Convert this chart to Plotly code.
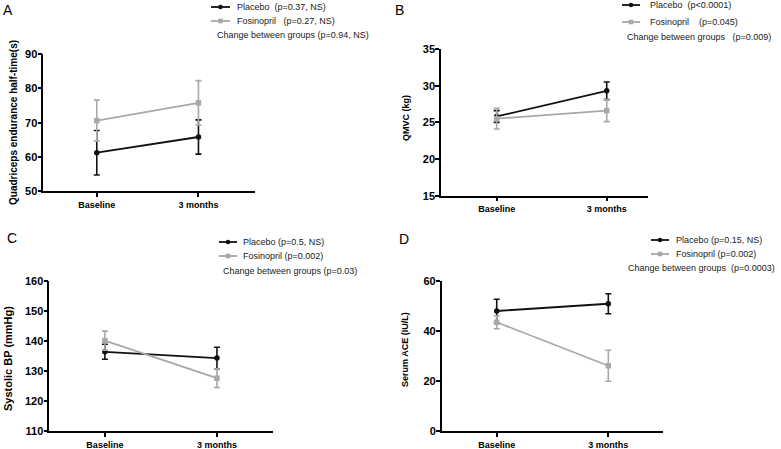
import plotly.graph_objects as go

W, H = 781, 449

categories = ["Baseline", "3 months"]

# Panel A - Quadriceps endurance half-time
a_placebo = [61.2, 65.8]
a_placebo_err = [6.5, 5.0]
a_fos = [70.6, 75.8]
a_fos_err = [6.0, 6.5]

# Panel B - QMVC
b_placebo = [25.8, 29.3]
b_placebo_err = [0.8, 1.2]
b_fos = [25.5, 26.6]
b_fos_err = [1.4, 1.5]

# Panel C - Systolic BP
c_placebo = [136.4, 134.3]
c_placebo_err = [2.5, 3.6]
c_fos = [140.1, 127.6]
c_fos_err = [3.2, 3.1]

# Panel D - Serum ACE
d_placebo = [48.0, 50.9]
d_placebo_err = [4.7, 4.0]
d_fos = [43.5, 26.1]
d_fos_err = [2.6, 6.2]

ytitles = ["Quadriceps endurance half-time(s)", "QMVC (kg)", "Systolic BP (mmHg)", "Serum ACE (IU/L)"]
letters = ["A", "B", "C", "D"]
legend_texts = [
    ["Placebo\u00a0\u00a0(p=0.37, NS)", "Fosinopril\u00a0\u00a0\u00a0(p=0.27, NS)", "Change between groups (p=0.94, NS)"],
    ["Placebo\u00a0\u00a0(p<0.0001)", "Fosinopril\u00a0\u00a0\u00a0\u00a0(p=0.045)", "Change between groups\u00a0\u00a0\u00a0(p=0.009)"],
    ["Placebo (p=0.5, NS)", "Fosinopril (p=0.002)", "Change between groups (p=0.03)"],
    ["Placebo (p=0.15, NS)", "Fosinopril (p=0.002)", "Change between groups\u00a0\u00a0(p=0.0003)"],
]
y_ranges = [[50, 90], [15, 35], [110, 160], [0, 60]]
y_dticks = [10, 5, 10, 20]

BLACK = "#111111"
GRAY = "#a8a8a8"
FONT = "Arial, Liberation Sans, sans-serif"

def px(x):
    return x / W

def py(y):
    return 1 - y / H

# layout geometry in pixels: (left, right, top, bottom), x-range
geom = [
    (43.3, 255, 54.3, 191, [-0.526, 1.556]),
    (441, 648, 49, 195.7, [-0.506, 1.375]),
    (49.3, 273, 281, 431, [-0.496, 1.50]),
    (441.7, 663, 281, 431, [-0.493, 1.49]),
]
ytitle_pos = [(13, 123, 10), (406, 118, 9), (8, 359, 11), (405, 350, 9)]
letter_pos = [(8, 10), (399, 10), (12, 238), (404, 239)]
# legend: symbol x0, x1, text x, row1 y, row2 y, change x, change y
leg_pos = [
    (211, 230, 235, 7, 21, 215, 35),
    (622, 640, 648, 5, 22, 625, 37),
    (219, 237, 241, 242, 256, 221, 271),
    (651, 669, 674, 240, 254, 626, 268),
]

data = [
    (a_placebo, a_placebo_err, a_fos, a_fos_err),
    (b_placebo, b_placebo_err, b_fos, b_fos_err),
    (c_placebo, c_placebo_err, c_fos, c_fos_err),
    (d_placebo, d_placebo_err, d_fos, d_fos_err),
]

fig = go.Figure()
layout = dict(
    width=W, height=H, margin=dict(l=0, r=0, t=0, b=0, autoexpand=False),
    paper_bgcolor="white", plot_bgcolor="white", showlegend=False,
    font=dict(family=FONT, color="black"),
)
annotations = []
shapes = []
xs = [0, 1]
for i in range(4):
    pl, ple, fo, foe = data[i]
    xa = "x" if i == 0 else f"x{i+1}"
    ya = "y" if i == 0 else f"y{i+1}"
    fig.add_trace(go.Scatter(
        x=xs, y=pl, xaxis=xa, yaxis=ya, mode="lines+markers",
        line=dict(color=BLACK, width=1.8),
        marker=dict(symbol="circle", size=5.5, color=BLACK),
        error_y=dict(type="data", array=ple, color=BLACK, thickness=1.6, width=3),
        cliponaxis=False,
    ))
    fig.add_trace(go.Scatter(
        x=xs, y=fo, xaxis=xa, yaxis=ya, mode="lines+markers",
        line=dict(color=GRAY, width=1.8),
        marker=dict(symbol="square", size=5.5, color=GRAY),
        error_y=dict(type="data", array=foe, color=GRAY, thickness=1.6, width=3),
        cliponaxis=False,
    ))
    l, r, t, b, xr = geom[i]
    xk = "xaxis" if i == 0 else f"xaxis{i+1}"
    yk = "yaxis" if i == 0 else f"yaxis{i+1}"
    layout[xk] = dict(
        domain=[px(l), px(r)], range=xr, anchor=ya, automargin=False,
        tickmode="array", tickvals=xs, ticktext=categories,
        showline=True, linecolor="black", linewidth=1.5,
        ticks="outside", ticklen=4, tickwidth=1.5, tickcolor="black",
        showgrid=False, zeroline=False,
        tickfont=dict(family=FONT, size=9, color="black", weight="bold"),
    )
    layout[yk] = dict(
        domain=[py(b), py(t)], range=y_ranges[i], anchor=xa, automargin=False,
        dtick=y_dticks[i], tick0=y_ranges[i][0],
        showline=True, linecolor="black", linewidth=1.5,
        ticks="outside", ticklen=4, tickwidth=1.5, tickcolor="black",
        ticklabelstandoff=-2,
        showgrid=False, zeroline=False,
        tickfont=dict(family=FONT, size=11, color="black", weight="bold"),
    )
    tx, ty, ts = ytitle_pos[i]
    annotations.append(dict(
        x=px(tx), y=py(ty), xref="paper", yref="paper", text=ytitles[i],
        textangle=-90, showarrow=False, xanchor="center", yanchor="middle",
        font=dict(family=FONT, size=ts, color="black", weight="bold"),
    ))
    lx, ly = letter_pos[i]
    annotations.append(dict(
        x=px(lx), y=py(ly), xref="paper", yref="paper", text=letters[i],
        showarrow=False, xanchor="center", yanchor="middle",
        font=dict(family=FONT, size=14, color="black"),
    ))
    s0, s1, tx0, r1, r2, cx, cy = leg_pos[i]
    for row_y, col, sym in ((r1, BLACK, "circle"), (r2, GRAY, "square")):
        shapes.append(dict(type="line", xref="paper", yref="paper",
                           x0=px(s0), x1=px(s1), y0=py(row_y), y1=py(row_y),
                           line=dict(color=col, width=1.8)))
        mx = (s0 + s1) / 2
        rr = 2.3
        shapes.append(dict(type="circle" if sym == "circle" else "rect",
                           xref="paper", yref="paper",
                           x0=px(mx - rr), x1=px(mx + rr), y0=py(row_y + rr), y1=py(row_y - rr),
                           fillcolor=col, line=dict(color=col, width=0)))
    for row_y, txt, xx in ((r1, legend_texts[i][0], tx0), (r2, legend_texts[i][1], tx0), (cy, legend_texts[i][2], cx)):
        annotations.append(dict(
            x=px(xx), y=py(row_y), xref="paper", yref="paper", text=txt,
            showarrow=False, xanchor="left", yanchor="middle",
            font=dict(family=FONT, size=9, color="#222222"),
        ))

layout["annotations"] = annotations
layout["shapes"] = shapes
fig.update_layout(**layout)
fig.write_html("out.html", config={"displayModeBar": False},
               post_script="document.body.style.margin='0';document.body.style.overflow='hidden';")
